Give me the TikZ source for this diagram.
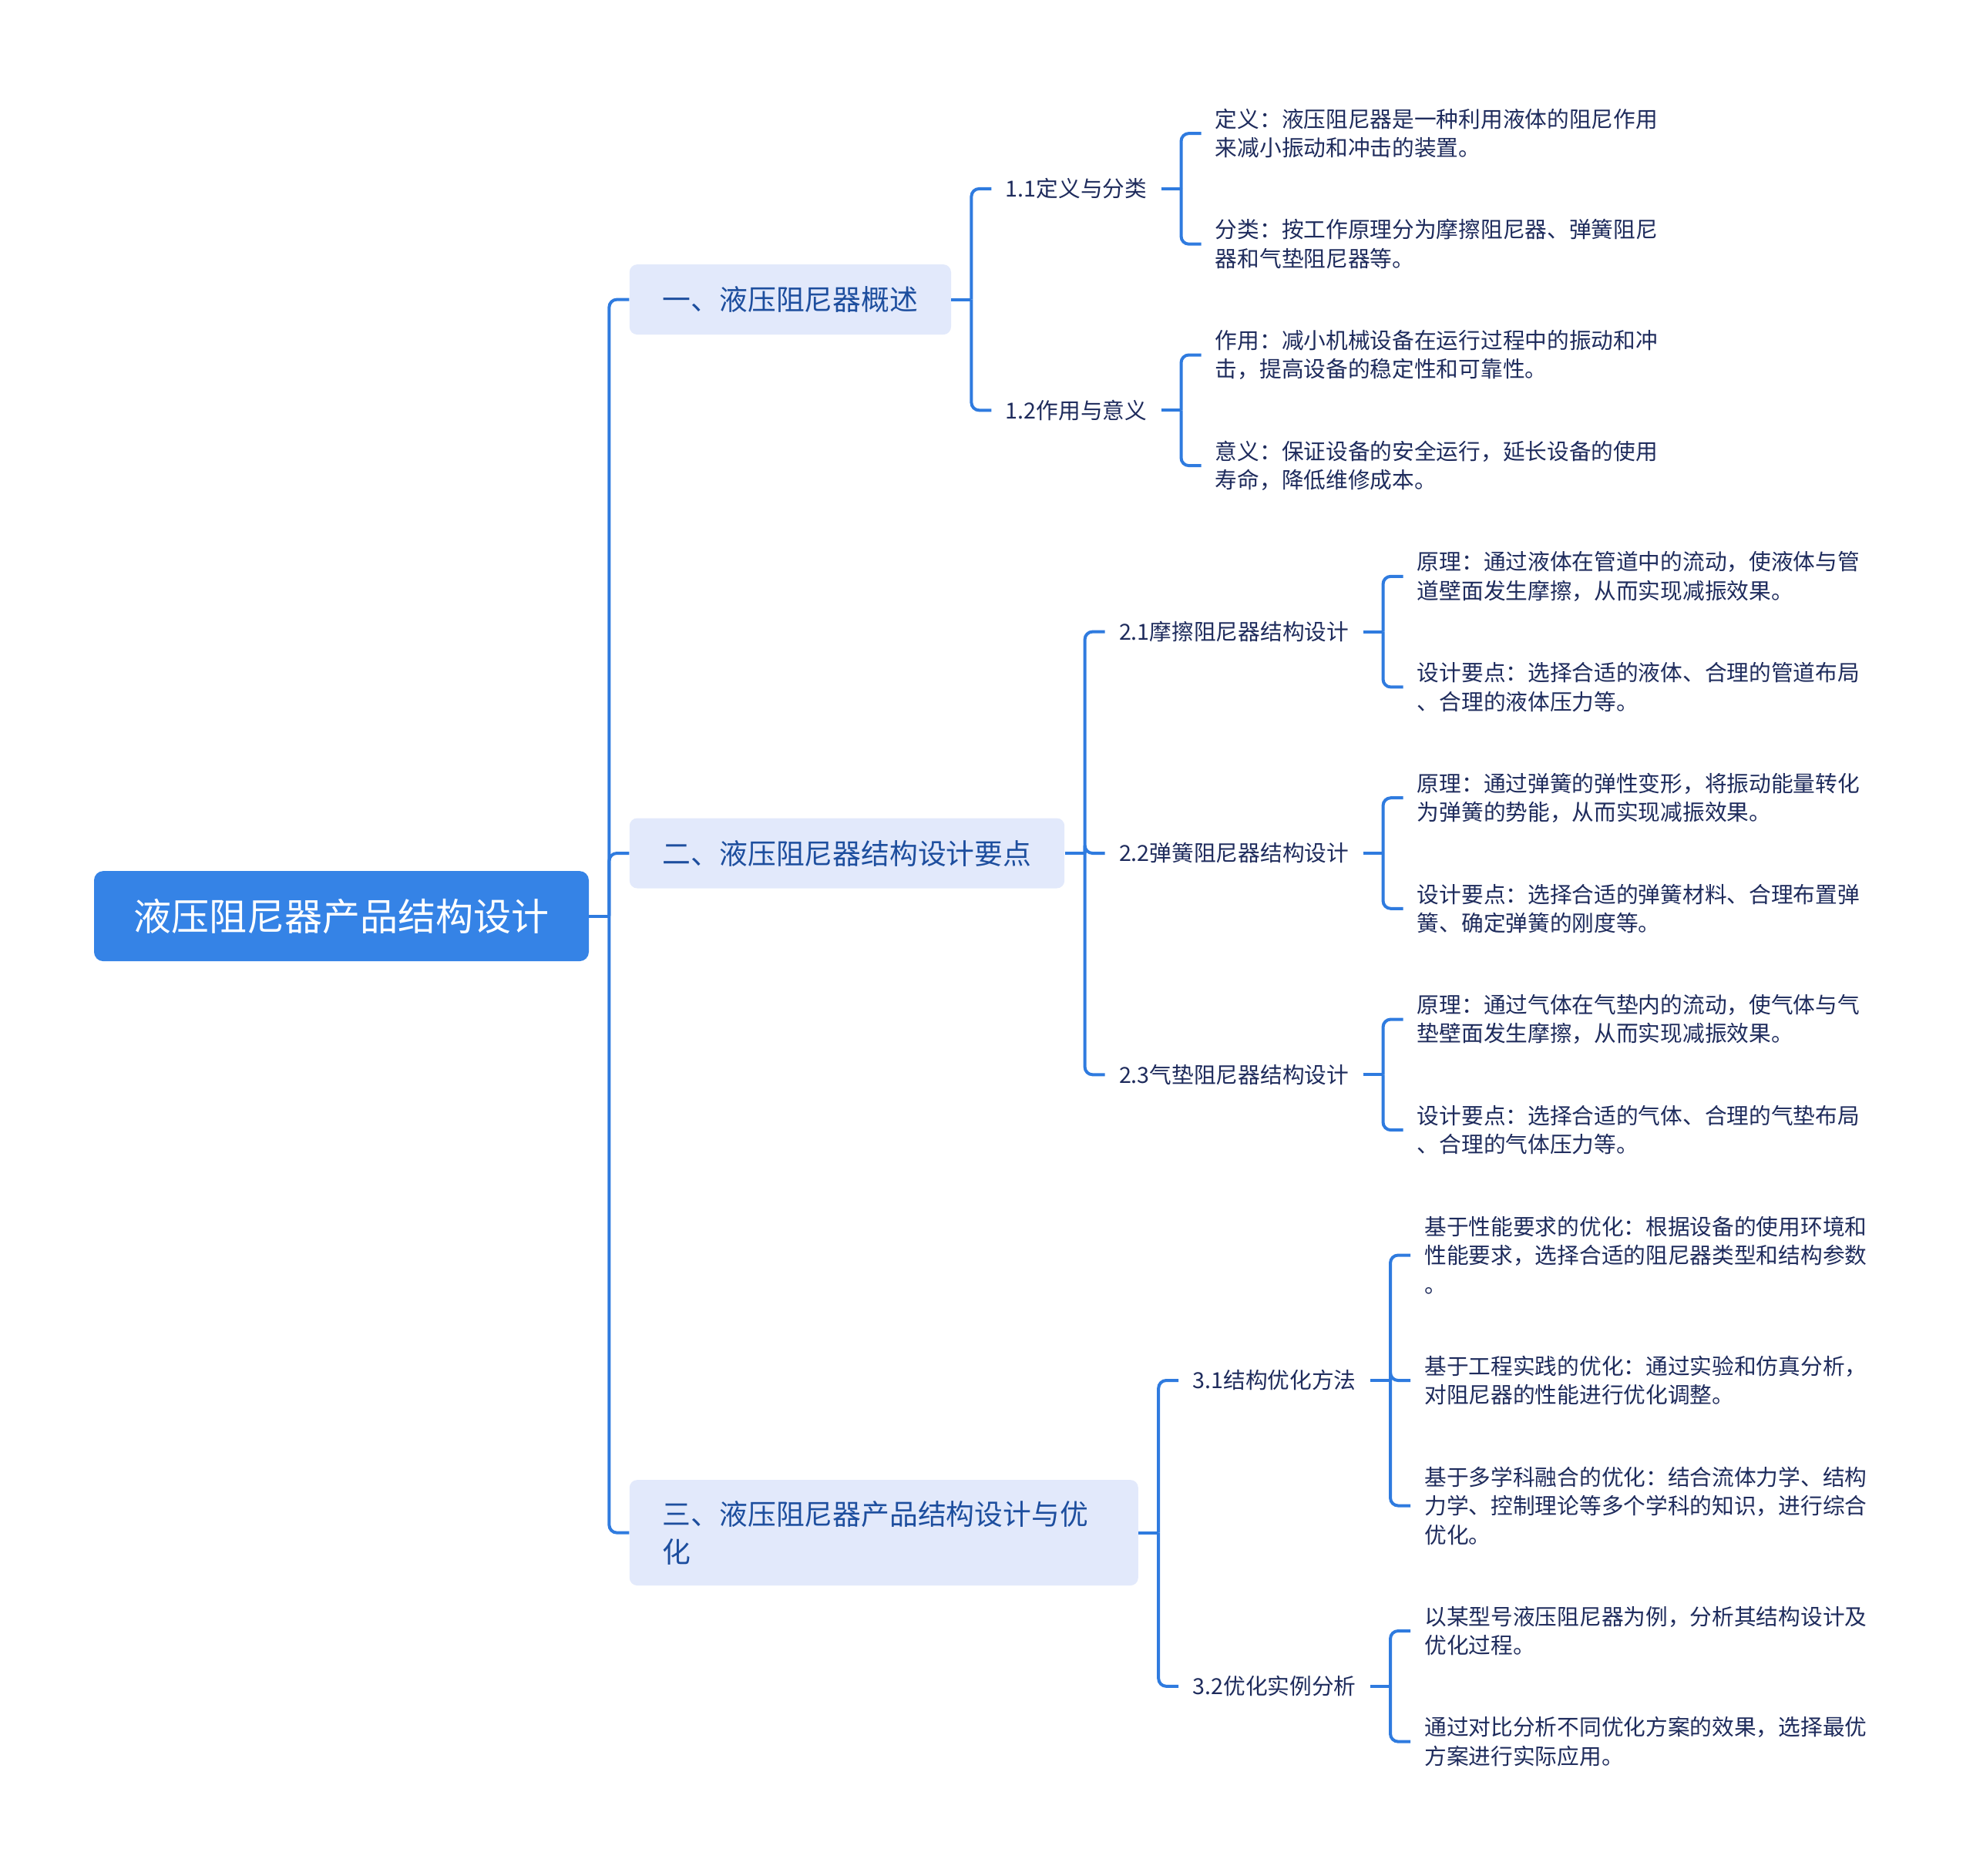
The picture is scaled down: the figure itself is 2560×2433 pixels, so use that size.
\documentclass[tikz,border=0pt]{standalone}
\usepackage{fontspec}
\setmainfont{Noto Sans CJK SC}
\usetikzlibrary{calc, positioning}

\definecolor{rootblue}{HTML}{3583E6}
\definecolor{linkblue}{HTML}{2F7BDF}
\definecolor{topicfill}{HTML}{E2E9FB}
\definecolor{topictext}{HTML}{1D4E9E}
\definecolor{leaftext}{HTML}{1E2B5C}

\tikzset{
  rootbox/.style={rectangle, rounded corners=6pt, fill=rootblue, text=white,
    font=\fontsize{24.5}{29}\selectfont, inner xsep=25.75pt, minimum height=58.5pt},
  topic/.style={rectangle, rounded corners=5pt, fill=topicfill, text=topictext,
    font=\fontsize{18.4}{24.5}\selectfont, inner xsep=21.5pt, inner ysep=13.5pt,
    minimum height=45.5pt, align=left},
  subtopic/.style={text=leaftext, font=\fontsize{14.35}{18.75}\selectfont,
    inner xsep=9pt, inner ysep=4pt},
  leaf/.style={text=leaftext, font=\fontsize{14.35}{18.75}\selectfont,
    inner xsep=9pt, inner ysep=4pt, align=left},
  link/.style={draw=linkblue, line width=2pt, rounded corners=5pt}
}

\begin{document}
\begin{tikzpicture}[x=0.5pt, y=-0.5pt]
\def\gap{26}
\def\leafdy{71.8}
\useasboundingbox (0,0) rectangle (2560,2433);

\node[rootbox] (root) at (443,1188.6) {液压阻尼器产品结构设计};

\node[topic, anchor=west] (t1) at ($(root.east)+(2*\gap,-800)$) {一、液压阻尼器概述};
\node[topic, anchor=west] (t2) at ($(root.east)+(2*\gap,-81.6)$) {二、液压阻尼器结构设计要点};
\node[topic, anchor=west, text width=287pt] (t3) at ($(root.east)+(2*\gap,800)$) {三、液压阻尼器产品结构设计与优\\化};

\node[subtopic, anchor=west] (s11) at ($(t1.east)+(2*\gap,-143.7)$) {1.1定义与分类};
\node[subtopic, anchor=west] (s12) at ($(t1.east)+(2*\gap,143.7)$) {1.2作用与意义};
\node[subtopic, anchor=west] (s21) at ($(t2.east)+(2*\gap,-287.4)$) {2.1摩擦阻尼器结构设计};
\node[subtopic, anchor=west] (s22) at ($(t2.east)+(2*\gap,0)$) {2.2弹簧阻尼器结构设计};
\node[subtopic, anchor=west] (s23) at ($(t2.east)+(2*\gap,287.3)$) {2.3气垫阻尼器结构设计};
\node[subtopic, anchor=west] (s31) at ($(t3.east)+(2*\gap,-197.6)$) {3.1结构优化方法};
\node[subtopic, anchor=west] (s32) at ($(t3.east)+(2*\gap,199.2)$) {3.2优化实例分析};

\node[leaf, anchor=west] (d11a) at ($(s11.east)+(2*\gap,-\leafdy)$) {定义：液压阻尼器是一种利用液体的阻尼作用\\来减小振动和冲击的装置。};
\node[leaf, anchor=west] (d11b) at ($(s11.east)+(2*\gap,\leafdy)$) {分类：按工作原理分为摩擦阻尼器、弹簧阻尼\\器和气垫阻尼器等。};
\node[leaf, anchor=west] (d12a) at ($(s12.east)+(2*\gap,-\leafdy)$) {作用：减小机械设备在运行过程中的振动和冲\\击，提高设备的稳定性和可靠性。};
\node[leaf, anchor=west] (d12b) at ($(s12.east)+(2*\gap,\leafdy)$) {意义：保证设备的安全运行，延长设备的使用\\寿命，降低维修成本。};

\node[leaf, anchor=west] (d21a) at ($(s21.east)+(2*\gap,-\leafdy)$) {原理：通过液体在管道中的流动，使液体与管\\道壁面发生摩擦，从而实现减振效果。};
\node[leaf, anchor=west] (d21b) at ($(s21.east)+(2*\gap,\leafdy)$) {设计要点：选择合适的液体、合理的管道布局\\、合理的液体压力等。};
\node[leaf, anchor=west] (d22a) at ($(s22.east)+(2*\gap,-\leafdy)$) {原理：通过弹簧的弹性变形，将振动能量转化\\为弹簧的势能，从而实现减振效果。};
\node[leaf, anchor=west] (d22b) at ($(s22.east)+(2*\gap,\leafdy)$) {设计要点：选择合适的弹簧材料、合理布置弹\\簧、确定弹簧的刚度等。};
\node[leaf, anchor=west] (d23a) at ($(s23.east)+(2*\gap,-\leafdy)$) {原理：通过气体在气垫内的流动，使气体与气\\垫壁面发生摩擦，从而实现减振效果。};
\node[leaf, anchor=west] (d23b) at ($(s23.east)+(2*\gap,\leafdy)$) {设计要点：选择合适的气体、合理的气垫布局\\、合理的气体压力等。};

\node[leaf, anchor=west] (d31a) at ($(s31.east)+(2*\gap,-162.5)$) {基于性能要求的优化：根据设备的使用环境和\\性能要求，选择合适的阻尼器类型和结构参数\\。};
\node[leaf, anchor=west] (d31b) at ($(s31.east)+(2*\gap,0)$) {基于工程实践的优化：通过实验和仿真分析，\\对阻尼器的性能进行优化调整。};
\node[leaf, anchor=west] (d31c) at ($(s31.east)+(2*\gap,162.5)$) {基于多学科融合的优化：结合流体力学、结构\\力学、控制理论等多个学科的知识，进行综合\\优化。};
\node[leaf, anchor=west] (d32a) at ($(s32.east)+(2*\gap,-\leafdy)$) {以某型号液压阻尼器为例，分析其结构设计及\\优化过程。};
\node[leaf, anchor=west] (d32b) at ($(s32.east)+(2*\gap,\leafdy)$) {通过对比分析不同优化方案的效果，选择最优\\方案进行实际应用。};

\foreach \p/\kids in {root/{t1,t2,t3}, t1/{s11,s12}, t2/{s21,s22,s23}, t3/{s31,s32},
    s11/{d11a,d11b}, s12/{d12a,d12b}, s21/{d21a,d21b}, s22/{d22a,d22b},
    s23/{d23a,d23b}, s31/{d31a,d31b,d31c}, s32/{d32a,d32b}} {
  \coordinate (\p-j) at ($(\p.east)+(\gap,0)$);
  \draw[link] (\p.east) -- (\p-j);
  \foreach \c in \kids \draw[link] (\p-j) |- (\c.west);
}
\end{tikzpicture}
\end{document}
